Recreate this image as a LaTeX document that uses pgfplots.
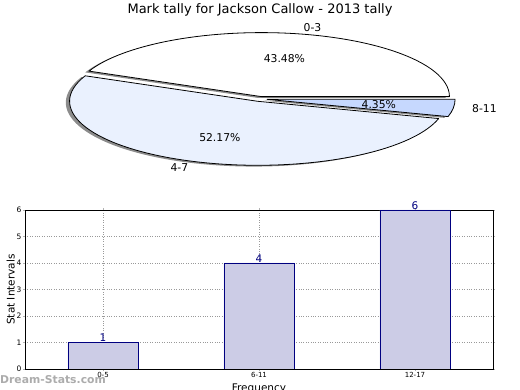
\documentclass[border=0pt]{standalone}
\usepackage{pgfplots}
\pgfplotsset{compat=1.18}
\usepackage{pgfplotstable}
\usepackage{fontspec}
\setmainfont{DejaVu Sans}

\definecolor{barfill}{RGB}{204,204,230}
\definecolor{baredge}{RGB}{0,0,128}
\definecolor{pieA}{RGB}{255,255,255}
\definecolor{pieB}{RGB}{234,241,254}
\definecolor{pieC}{RGB}{198,216,254}
\definecolor{shadowc}{RGB}{140,140,140}

\pgfplotstableread{
x label value
0 {0-5} 1
1 {6-11} 4
2 {12-17} 6
}\bardata

% pie counts (0-3, 4-7, 8-11)
\def\cA{10}
\def\cB{12}
\def\cC{1}

\begin{document}
\begin{tikzpicture}[x=1pt,y=1pt]
\useasboundingbox (0,0) rectangle (520,390);

\pgfmathsetmacro\tot{\cA+\cB+\cC}
\pgfmathsetmacro\eA{360*\cA/\tot}
\pgfmathsetmacro\eB{\eA+360*\cB/\tot}
\pgfmathsetmacro\mA{\eA/2}
\pgfmathsetmacro\mB{(\eA+\eB)/2}
\pgfmathsetmacro\mC{(\eB+360)/2}
\def\ex{0.038}
\pgfmathsetmacro\xA{\ex*cos(\mA)}\pgfmathsetmacro\yA{\ex*sin(\mA)}
\pgfmathsetmacro\xB{\ex*cos(\mB)}\pgfmathsetmacro\yB{\ex*sin(\mB)}
\pgfmathsetmacro\xC{\ex*cos(\mC)}\pgfmathsetmacro\yC{\ex*sin(\mC)}

\node[font=\fontsize{13}{13}\selectfont, inner sep=0pt] at (260,380) {Mark tally for Jackson Callow - 2013 tally};

\begin{axis}[at={(260pt,291pt)}, anchor=center, scale only axis,
  width=488.8pt, height=166.4pt,
  xmin=-1.3, xmax=1.3, ymin=-1.3, ymax=1.3,
  axis lines=none, clip=false]
  % shadows
  \fill[shadowc] (axis cs:{\xA-0.02},{\yA-0.02}) -- (axis cs:{\xA-0.02+1},{\yA-0.02}) arc[start angle=0, end angle=\eA, x radius=188pt, y radius=64pt] -- cycle;
  \fill[shadowc] (axis cs:{\xB-0.02},{\yB-0.02}) -- (axis cs:{\xB-0.02+cos(\eA)},{\yB-0.02+sin(\eA)}) arc[start angle=\eA, end angle=\eB, x radius=188pt, y radius=64pt] -- cycle;
  \fill[shadowc] (axis cs:{\xC-0.02},{\yC-0.02}) -- (axis cs:{\xC-0.02+cos(\eB)},{\yC-0.02+sin(\eB)}) arc[start angle=\eB, end angle=360, x radius=188pt, y radius=64pt] -- cycle;
  % wedges
  \filldraw[fill=pieA, draw=black, line width=0.8pt, line join=round] (axis cs:\xA,\yA) -- (axis cs:{\xA+1},{\yA}) arc[start angle=0, end angle=\eA, x radius=188pt, y radius=64pt] -- cycle;
  \filldraw[fill=pieB, draw=black, line width=0.8pt, line join=round] (axis cs:\xB,\yB) -- (axis cs:{\xB+cos(\eA)},{\yB+sin(\eA)}) arc[start angle=\eA, end angle=\eB, x radius=188pt, y radius=64pt] -- cycle;
  \filldraw[fill=pieC, draw=black, line width=0.8pt, line join=round] (axis cs:\xC,\yC) -- (axis cs:{\xC+cos(\eB)},{\yC+sin(\eB)}) arc[start angle=\eB, end angle=360, x radius=188pt, y radius=64pt] -- cycle;
  % percentages
  \node[font=\fontsize{10.8}{11}\selectfont] at (axis cs:{\xA+0.6*cos(\mA)},{\yA+0.6*sin(\mA)}) {43.48\%};
  \node[font=\fontsize{10.8}{11}\selectfont] at (axis cs:{\xB+0.6*cos(\mB)},{\yB+0.6*sin(\mB)}) {52.17\%};
  \node[font=\fontsize{10.8}{11}\selectfont] at (axis cs:{\xC+0.6*cos(\mC)},{\yC+0.6*sin(\mC)}) {4.35\%};
  % labels
  \node[font=\fontsize{10.8}{11}\selectfont, anchor=west, inner sep=0pt] at (axis cs:{\xA+1.1*cos(\mA)},{\yA+1.1*sin(\mA)}) {0-3};
  \node[font=\fontsize{10.8}{11}\selectfont, anchor=east, inner sep=0pt] at (axis cs:{\xB+1.1*cos(\mB)},{\yB+1.1*sin(\mB)}) {4-7};
  \node[font=\fontsize{10.8}{11}\selectfont, anchor=west, inner sep=0pt] at (axis cs:{\xC+1.1*cos(\mC)},{\yC+1.1*sin(\mC)}) {8-11};
\end{axis}

\begin{axis}[at={(25pt,21pt)}, anchor=south west, scale only axis,
  width=468pt, height=159pt,
  xmin=-0.5, xmax=2.5, ymin=0, ymax=6,
  xtick={0,1,2}, xticklabels={0-5,6-11,12-17},
  ytick={0,1,2,3,4,5,6},
  /pgf/number format/assume math mode=true,
  grid=major, grid style={dotted, gray!80, line width=0.8pt},
  tick align=outside, major tick length=2pt, tick style={gray!60},
  axis line style={black, line width=0.8pt},
  xticklabel style={font=\fontsize{7}{7}\selectfont, inner sep=1.5pt},
  yticklabel style={font=\fontsize{7.5}{7.5}\selectfont, inner sep=1.5pt},
  ylabel={Stat Intervals}, ylabel style={font=\fontsize{10.5}{10.5}\selectfont, inner sep=0pt},
  xlabel={Frequency}, xlabel style={font=\fontsize{10.5}{10.5}\selectfont, inner sep=0pt, yshift=-4pt},
  ybar, bar width=0.45,
  nodes near coords,
  nodes near coords style={font=\fontsize{10.5}{10.5}\selectfont, text=baredge, inner sep=0.3pt, anchor=south},
]
\addplot[fill=barfill, draw=baredge, line width=0.8pt] table[x=x, y=value] {\bardata};
\end{axis}

\node[anchor=west, inner sep=0pt, text=gray!65, font=\bfseries\fontsize{10.8}{10.8}\selectfont] at (0,10) {Dream-Stats.com};
\end{tikzpicture}
\end{document}
